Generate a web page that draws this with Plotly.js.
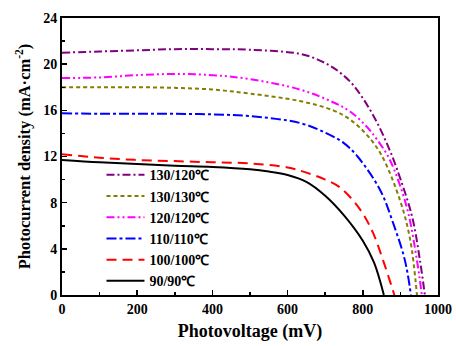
<!DOCTYPE html>
<html>
<head>
<meta charset="utf-8">
<script src="https://cdn.plot.ly/plotly-3.0.1.min.js"></script>
<style>html,body{margin:0;padding:0;background:#fff;}#chart{width:456px;height:346px;}</style>
</head>
<body>
<div id="chart"></div>
<script>
const seriesNames = ["130/120℃", "130/130℃", "120/120℃", "110/110℃", "100/100℃", "90/90℃"];

const v130_120 = [0,100,200,300,400,500,633,680,721,766,801,837,867,891,931,952,965];
const j130_120 = [21.0,21.1,21.2,21.3,21.3,21.25,20.9,20.4,19.7,18.5,17.0,15.0,12.9,10.9,6.8,3.0,0];

const v130_130 = [0,100,200,300,400,500,633,721,766,810,850,899,926,944];
const j130_130 = [18.0,18.0,18.0,17.95,17.8,17.45,16.8,16.0,15.2,13.9,12.1,8.2,4.8,0];

const v120_120 = [0,100,200,300,400,500,633,721,766,810,837,872,917,944,957];
const j120_120 = [18.8,18.85,19.05,19.15,19.05,18.7,17.8,16.7,15.9,14.6,13.5,11.7,7.6,3.0,0];

const v110_110 = [0,100,200,300,400,500,633,704,748,786,846,881,912,928];
const j110_110 = [15.75,15.7,15.7,15.7,15.65,15.5,14.9,14.0,13.2,12.0,9.1,6.2,3.0,0];

const v100_100 = [0,100,200,300,400,500,600,650,700,740,793,827,854,884];
const j100_100 = [12.2,11.9,11.7,11.6,11.5,11.4,11.05,10.6,10.0,9.3,7.4,5.4,3.0,0];

const v90_90 = [0,100,200,300,400,500,550,600,650,700,750,800,830,856];
const j90_90 = [11.7,11.5,11.35,11.2,11.1,10.9,10.7,10.4,9.8,8.6,6.9,4.7,2.8,0];

const xs = [v130_120, v130_130, v120_120, v110_110, v100_100, v90_90];
const ys = [j130_120, j130_130, j120_120, j110_110, j100_100, j90_90];
const colors = ["#800080", "#808000", "#FF00FF", "#0000FF", "#FF0000", "#000000"];
const dashes = ["8px,3px,2px,3px", "4px,3px", "8px,3px,2px,3px,2px,3px", "10px,3px,3px,3px", "10px,6px", "solid"];

const font = "Liberation Serif, Times New Roman, serif";
const traces = seriesNames.map((n, i) => ({
  x: xs[i], y: ys[i], name: n, type: "scatter", mode: "lines",
  line: {color: colors[i], width: 2, dash: dashes[i], shape: "spline", smoothing: 1}
}));

const layout = {
  width: 456, height: 346,
  margin: {l: 62, r: 18, t: 18, b: 51},
  paper_bgcolor: "#fff", plot_bgcolor: "#fff",
  font: {family: font, color: "#000"},
  showlegend: true,
  legend: {x: 0.105, y: 0.49, xanchor: "left", yanchor: "top", bgcolor: "rgba(0,0,0,0)",
           font: {family: font, size: 14, weight: "bold"}, tracegroupgap: 0, itemwidth: 38},
  xaxis: {
    range: [0, 1000], tickvals: [0,200,400,600,800,1000],
    ticks: "inside", ticklen: 5, tickwidth: 1.5, tickcolor: "#000",
    minor: {dtick: 100, ticks: "inside", ticklen: 3, tickwidth: 1.5, tickcolor: "#000"},
    showline: true, linecolor: "#000", linewidth: 2, mirror: true,
    showgrid: false, zeroline: false,
    tickfont: {family: font, size: 14, weight: "bold"},
    title: {text: "Photovoltage (mV)", font: {family: font, size: 18, weight: "bold"}, standoff: 9}
  },
  yaxis: {
    range: [0, 24], tickvals: [0,4,8,12,16,20,24],
    ticks: "inside", ticklen: 5, tickwidth: 1.5, tickcolor: "#000",
    minor: {dtick: 2, ticks: "inside", ticklen: 3, tickwidth: 1.5, tickcolor: "#000"},
    showline: true, linecolor: "#000", linewidth: 2, mirror: true,
    showgrid: false, zeroline: false,
    tickfont: {family: font, size: 14, weight: "bold"},
    title: {text: "Photocurrent density (mA·cm<sup>-2</sup>)", font: {family: font, size: 16.5, weight: "bold"}, standoff: 8}
  }
};

Plotly.newPlot("chart", traces, layout, {displayModeBar: false, staticPlot: true});
</script>
</body>
</html>
